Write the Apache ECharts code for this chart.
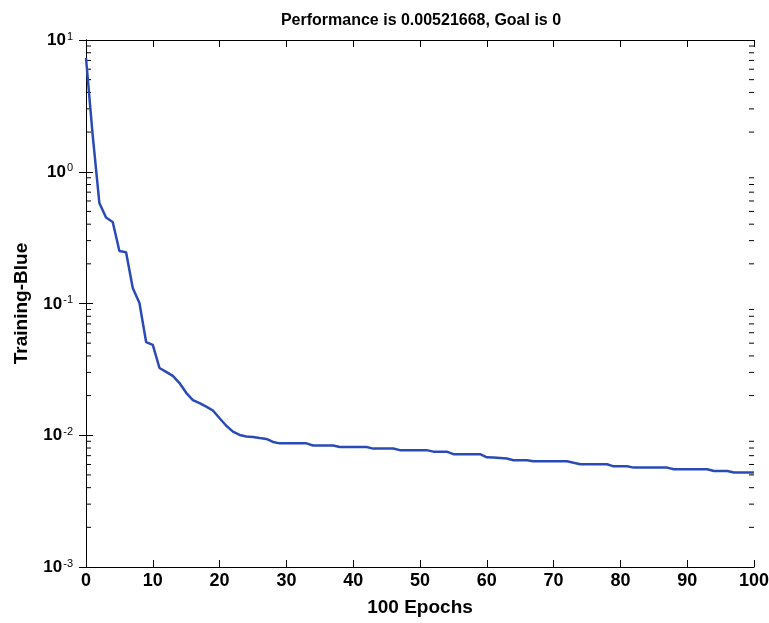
<!DOCTYPE html>
<html>
<head>
<meta charset="utf-8">
<script src="https://cdn.jsdelivr.net/npm/echarts@6/dist/echarts.min.js"></script>
<style>
  html, body { margin: 0; padding: 0; background: #fff; }
  #chart { width: 769px; height: 623px; }
</style>
</head>
<body>
<div id="chart"></div>
<script>
// epochs 0..100 and the training performance
const epochs = Array.from({ length: 101 }, (_, i) => i)
const perf = [
  7.3, 1.9, 0.58, 0.45, 0.416, 0.25, 0.245, 0.131, 0.101, 0.051,
  0.0485, 0.0324, 0.0303, 0.0282, 0.0249, 0.021, 0.0185, 0.0175, 0.0165, 0.0154,
  0.01346, 0.0118, 0.01065, 0.01005, 0.0098, 0.0097, 0.00953, 0.00937, 0.0089, 0.00868,
  0.00868, 0.00868, 0.00868, 0.00868, 0.00836, 0.00836, 0.00836, 0.00836, 0.00814, 0.00814,
  0.00814, 0.00814, 0.00814, 0.00792, 0.00792, 0.00792, 0.00792, 0.00771, 0.00771, 0.00771,
  0.00771, 0.00771, 0.00751, 0.00751, 0.00751, 0.00718, 0.00718, 0.00718, 0.00718, 0.00718,
  0.0068, 0.00678, 0.00672, 0.00666, 0.00646, 0.00646, 0.00646, 0.00634, 0.00634, 0.00634,
  0.00634, 0.00634, 0.00634, 0.00618, 0.00603, 0.00603, 0.00603, 0.00603, 0.00603, 0.00581,
  0.00581, 0.00581, 0.00568, 0.00568, 0.00568, 0.00568, 0.00568, 0.00568, 0.00552, 0.00552,
  0.00552, 0.00552, 0.00552, 0.00552, 0.00535, 0.00535, 0.00535, 0.00522, 0.00522, 0.00522,
  0.00521668,
]
const minorMantissas = [2, 3, 4, 5, 6, 7, 8, 9]
const decades = [0.001, 0.01, 0.1, 1]

const titleText = 'Performance is 0.00521668, Goal is 0'
const xName = '100 Epochs'
const yName = 'Training-Blue'

const sans = "'Liberation Sans', Arial, sans-serif"

const chart = echarts.init(document.getElementById('chart'), null, { renderer: 'canvas' })

// minor ticks (2..9 x 10^k) drawn on both y edges
const minorVals = []
for (const d of decades) for (const m of minorMantissas) minorVals.push(+(m * d).toPrecision(3))

const blackLine = { show: true, lineStyle: { color: '#000', width: 1 } }
const tick = { inside: true, length: 7, lineStyle: { color: '#000' } }

chart.setOption({
  animation: false,
  title: {
    text: titleText,
    left: 416,
    textAlign: 'center',
    top: 8,
    textStyle: { fontFamily: sans, fontSize: 16, fontWeight: 'bold', color: '#000' },
  },
  grid: { left: 86, right: 15, top: 40, bottom: 56, outerBoundsMode: 'none' },
  xAxis: [
    {
      type: 'value',
      min: 0,
      max: 100,
      interval: 10,
      name: xName,
      nameLocation: 'middle',
      nameGap: 31,
      nameTextStyle: { fontFamily: sans, fontSize: 19, fontWeight: 'bold', color: '#000' },
      axisLine: blackLine,
      axisTick: tick,
      axisLabel: { fontFamily: sans, fontSize: 18, fontWeight: 'bold', color: '#000', margin: 5 },
      splitLine: { show: false },
    },
    {
      type: 'value',
      position: 'top',
      min: 0,
      max: 100,
      interval: 10,
      axisLine: blackLine,
      axisTick: tick,
      axisLabel: { show: false },
      splitLine: { show: false },
    },
  ],
  yAxis: [
    {
      type: 'log',
      min: 0.001,
      max: 10,
      logBase: 10,
      name: yName,
      nameLocation: 'middle',
      nameGap: 55,
      nameTextStyle: { fontFamily: sans, fontSize: 19, fontWeight: 'bold', color: '#000' },
      axisLine: blackLine,
      axisTick: tick,
      axisLabel: {
        margin: 13,
        formatter: v => '{b|10}{s|' + Math.round(Math.log10(v)) + '}',
        rich: {
          b: { fontFamily: sans, fontSize: 17, fontWeight: 'bold', color: '#000', verticalAlign: 'bottom', lineHeight: 18 },
          s: { fontFamily: sans, fontSize: 11, color: '#000', verticalAlign: 'top', lineHeight: 18, padding: [0, 0, 12, 1] },
        },
      },
      splitLine: { show: false },
    },
    {
      type: 'log',
      position: 'right',
      min: 0.001,
      max: 10,
      logBase: 10,
      axisLine: blackLine,
      axisTick: tick,
      axisLabel: { show: false },
      splitLine: { show: false },
    },
  ],
  series: [
    {
      type: 'custom',
      silent: true,
      data: minorVals,
      renderItem: (params, api) => {
        const v = api.value(0)
        const p = api.coord([0, v])
        const r = api.coord([100, v])
        const style = { stroke: '#000', lineWidth: 1 }
        return {
          type: 'group',
          children: [
            { type: 'line', shape: { x1: p[0], y1: p[1], x2: p[0] + 5, y2: p[1] }, style },
            { type: 'line', shape: { x1: r[0], y1: r[1], x2: r[0] - 5, y2: r[1] }, style },
          ],
        }
      },
      encode: { y: 0 },
      clip: false,
      z: 1,
    },
    {
      type: 'line',
      data: epochs.map((e, i) => [e, perf[i]]),
      showSymbol: false,
      lineStyle: { color: '#2a4bb5', width: 2.5 },
      z: 3,
    },
  ],
})
</script>
</body>
</html>
